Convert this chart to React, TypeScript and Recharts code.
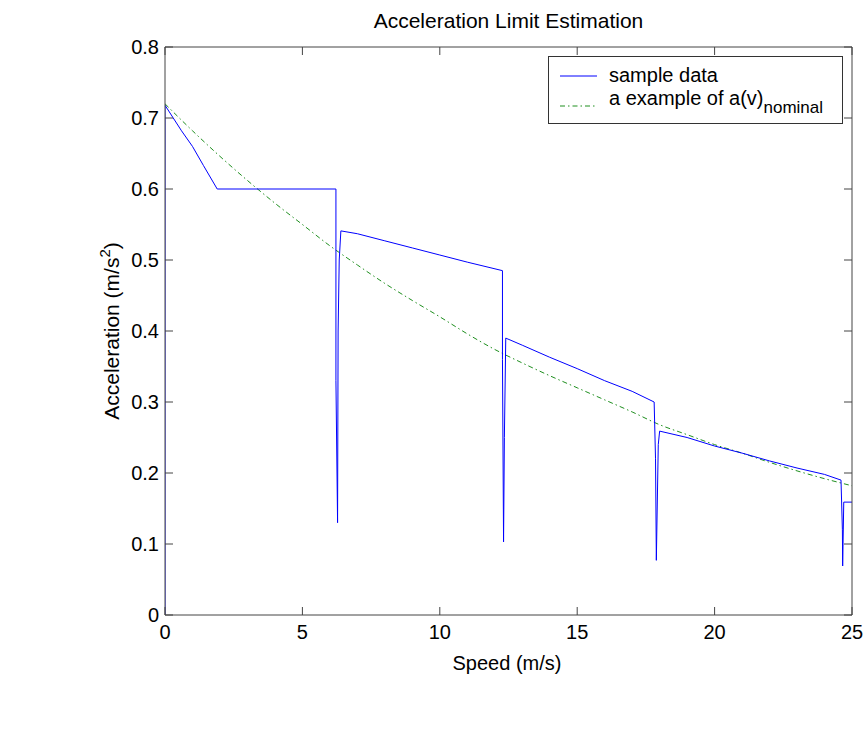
import React from "react";
import { LineChart, Line, XAxis, YAxis } from "recharts";

// sample data: speed (m/s) vs acceleration (m/s^2)
const sampleData = [
  { x: 0, y: 0 },
  { x: 0, y: 0.718 },
  { x: 0.3, y: 0.7 },
  { x: 0.6, y: 0.682 },
  { x: 1.0, y: 0.66 },
  { x: 1.4, y: 0.633 },
  { x: 1.9, y: 0.6 },
  { x: 6.22, y: 0.6 },
  { x: 6.22, y: 0.33 },
  { x: 6.28, y: 0.13 },
  { x: 6.3, y: 0.4 },
  { x: 6.34, y: 0.5 },
  { x: 6.4, y: 0.541 },
  { x: 7, y: 0.537 },
  { x: 8, y: 0.527 },
  { x: 9, y: 0.517 },
  { x: 10, y: 0.507 },
  { x: 11, y: 0.497 },
  { x: 12.28, y: 0.485 },
  { x: 12.28, y: 0.36 },
  { x: 12.32, y: 0.103 },
  { x: 12.35, y: 0.25 },
  { x: 12.4, y: 0.39 },
  { x: 13, y: 0.38 },
  { x: 14, y: 0.363 },
  { x: 15, y: 0.347 },
  { x: 16, y: 0.33 },
  { x: 17, y: 0.315 },
  { x: 17.8, y: 0.3 },
  { x: 17.85, y: 0.22 },
  { x: 17.88, y: 0.077 },
  { x: 17.95, y: 0.24 },
  { x: 18.0, y: 0.259 },
  { x: 19, y: 0.25 },
  { x: 20, y: 0.238 },
  { x: 21, y: 0.228 },
  { x: 22, y: 0.217 },
  { x: 23, y: 0.207 },
  { x: 24, y: 0.198 },
  { x: 24.6, y: 0.19 },
  { x: 24.65, y: 0.12 },
  { x: 24.66, y: 0.069 },
  { x: 24.7, y: 0.159 },
  { x: 25, y: 0.159 },
];

// a(v) nominal example curve
const nominalData = [
  { x: 0, y: 0.72 },
  { x: 1, y: 0.682 },
  { x: 2, y: 0.646 },
  { x: 3, y: 0.612 },
  { x: 4, y: 0.58 },
  { x: 5, y: 0.55 },
  { x: 6, y: 0.52 },
  { x: 7, y: 0.493 },
  { x: 8, y: 0.467 },
  { x: 9, y: 0.443 },
  { x: 10, y: 0.42 },
  { x: 11, y: 0.396 },
  { x: 12, y: 0.374 },
  { x: 13, y: 0.355 },
  { x: 14, y: 0.337 },
  { x: 15, y: 0.32 },
  { x: 16, y: 0.303 },
  { x: 17, y: 0.286 },
  { x: 18, y: 0.268 },
  { x: 19, y: 0.254 },
  { x: 20, y: 0.24 },
  { x: 21, y: 0.228 },
  { x: 22, y: 0.215 },
  { x: 23, y: 0.203 },
  { x: 24, y: 0.192 },
  { x: 25, y: 0.182 },
];

const xTicks = [0, 5, 10, 15, 20, 25];
const yTicks = [0, 0.1, 0.2, 0.3, 0.4, 0.5, 0.6, 0.7, 0.8];

const FONT = "'Liberation Sans', Arial, sans-serif";
const AXIS = "#444";
const TICK_LEN = 8;
const X_GAP = 10;
const Y_GAP = 6;

// matlab style: tick marks point into the plot box
const BottomTick = (p: any) => (
  <g>
    <line x1={p.x} x2={p.x} y1={p.y - X_GAP} y2={p.y - X_GAP - TICK_LEN} stroke={AXIS} />
    <text x={p.x} y={p.y} dy="0.72em" textAnchor="middle" fontSize={20} fontFamily={FONT} fill="#000">
      {p.payload.value}
    </text>
  </g>
);

const LeftTick = (p: any) => (
  <g>
    <line x1={p.x + Y_GAP} x2={p.x + Y_GAP + TICK_LEN} y1={p.y} y2={p.y} stroke={AXIS} />
    <text x={p.x} y={p.y} dy="0.36em" textAnchor="end" fontSize={20} fontFamily={FONT} fill="#000">
      {p.payload.value}
    </text>
  </g>
);

const TopTick = (p: any) => <line x1={p.x} x2={p.x} y1={p.y} y2={p.y + TICK_LEN} stroke={AXIS} />;
const RightTick = (p: any) => <line x1={p.x} x2={p.x - TICK_LEN} y1={p.y} y2={p.y} stroke={AXIS} />;

export default function App() {
  return (
    <div style={{ position: "absolute", left: 0, top: 0, width: 866, height: 738, background: "#fff", fontFamily: FONT }}>
      <div style={{ position: "absolute", top: 9, left: 165, width: 687, textAlign: "center", fontSize: 21 }}>
        Acceleration Limit Estimation
      </div>
      <LineChart width={866} height={738} data={sampleData} margin={{ top: 46, right: 13, bottom: 83, left: 0 }}>
        <XAxis
          xAxisId="bottom"
          dataKey="x"
          type="number"
          domain={[0, 25]}
          ticks={xTicks}
          height={40}
          tickSize={0}
          tickMargin={X_GAP}
          tickLine={false}
          stroke={AXIS}
          tick={BottomTick}
          allowDataOverflow
          label={() => (
            <text x={507} y={670} textAnchor="middle" fontSize={20} fontFamily={FONT} fill="#000">
              Speed (m/s)
            </text>
          )}
        />
        <XAxis
          xAxisId="top"
          orientation="top"
          dataKey="x"
          type="number"
          domain={[0, 25]}
          ticks={xTicks}
          height={1}
          tickSize={0}
          tickMargin={0}
          tickLine={false}
          tick={TopTick}
          stroke={AXIS}
          allowDataOverflow
        />
        <YAxis
          yAxisId="left"
          type="number"
          domain={[0, 0.8]}
          ticks={yTicks}
          width={165}
          tickSize={0}
          tickMargin={Y_GAP}
          tickLine={false}
          stroke={AXIS}
          tick={LeftTick}
          allowDataOverflow
          label={() => (
            <text
              x={119}
              y={331}
              transform="rotate(-90 119 331)"
              textAnchor="middle"
              fontSize={21}
              fontFamily={FONT}
              fill="#000"
            >
              Acceleration (m/s
              <tspan fontSize={15} dy={-9}>2</tspan>
              <tspan dy={9}>)</tspan>
            </text>
          )}
        />
        <YAxis
          yAxisId="right"
          orientation="right"
          type="number"
          domain={[0, 0.8]}
          ticks={yTicks}
          width={1}
          tickSize={0}
          tickMargin={0}
          tickLine={false}
          tick={RightTick}
          stroke={AXIS}
          allowDataOverflow
        />
        <Line
          xAxisId="top"
          yAxisId="right"
          data={nominalData}
          dataKey="y"
          type="monotone"
          stroke="#1f8f1f"
          strokeWidth={1}
          strokeDasharray="5 3 1.5 3"
          dot={false}
          isAnimationActive={false}
        />
        <Line
          xAxisId="bottom"
          yAxisId="left"
          dataKey="y"
          type="linear"
          stroke="#0000ff"
          strokeWidth={1}
          dot={false}
          isAnimationActive={false}
        />
      </LineChart>
      <div
        style={{
          position: "absolute",
          left: 548,
          top: 56,
          width: 293,
          height: 66,
          border: "1px solid #333",
          background: "#fff",
          fontSize: 20,
          lineHeight: "24px",
        }}
      >
        <svg width={50} height={66} style={{ position: "absolute", left: 0, top: 0 }}>
          <line x1={11} x2={48} y1={19} y2={19} stroke="#0000ff" strokeWidth={1} />
          <line x1={11} x2={48} y1={49} y2={49} stroke="#1f8f1f" strokeWidth={1} strokeDasharray="5 3 1.5 3" />
        </svg>
        <div style={{ position: "absolute", left: 60, top: 6, whiteSpace: "nowrap" }}>sample data</div>
        <div style={{ position: "absolute", left: 60, top: 29, whiteSpace: "nowrap" }}>
          a example of a(v)<sub style={{ fontSize: 17, verticalAlign: "-8px", lineHeight: 0 }}>nominal</sub>
        </div>
      </div>
    </div>
  );
}
